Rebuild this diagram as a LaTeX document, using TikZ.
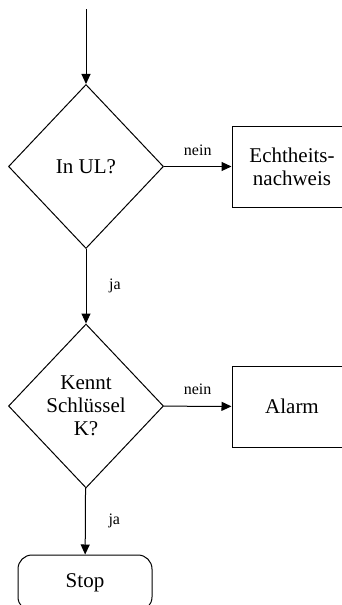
\documentclass[tikz,border=0pt]{standalone}
\usepackage{fontspec}
\setmainfont{Liberation Serif}
\usepackage{tikz}
\usetikzlibrary{shapes.geometric,arrows.meta}
\tikzset{
  decision/.style={draw,diamond,minimum width=77.5pt,minimum height=82pt,inner sep=0pt,align=center},
  action/.style={draw,rectangle,minimum width=60pt,minimum height=40.5pt,align=center},
  terminal/.style={draw,rectangle,rounded corners=7pt,minimum width=67pt,minimum height=28pt},
  flow/.style={-{Triangle[length=5pt,width=4.5pt]}},
  lbl/.style={font=\fontsize{8}{9}\selectfont}
}

\begin{document}
\begin{tikzpicture}[x=0.5pt,y=-0.5pt,line width=0.5pt,font=\fontsize{10.5}{11.5}\selectfont]
  \useasboundingbox (0,0) rectangle (342,605);
  \clip (0,0) rectangle (342,605);
  \coordinate (start) at (86,9);
  \node[decision] (ul) at (86,166.5) {In UL?};
  \node[action] (echt) at (292,166.5) {Echtheits-\\nachweis};
  \node[decision] (key) at (86,406) {Kennt\\Schl\"ussel\\K?};
  \node[action] (alarm) at (292,406.5) {Alarm};
  \node[terminal] (stop) at (85,583) {Stop};

  \draw[flow] (start) -- (ul);
  \draw[flow] (ul) -- node[lbl,above=2pt] {nein} (echt);
  \draw[flow] (ul) -- node[lbl,right,xshift=8pt] {ja} (key);
  \draw[flow] (key) -- node[lbl,above=2pt] {nein} (alarm);
  \draw[flow] (key) -- node[lbl,right,xshift=8pt] {ja} (stop);
\end{tikzpicture}
\end{document}
